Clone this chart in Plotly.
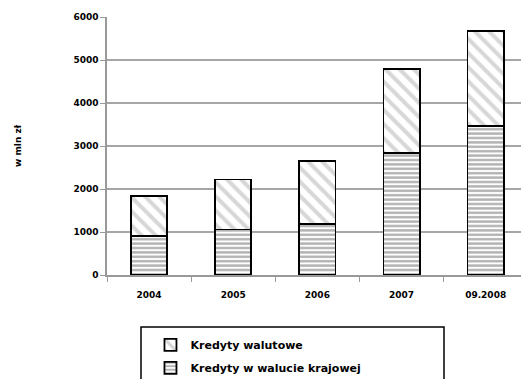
import plotly.graph_objects as go

categories = ["2004", "2005", "2006", "2007", "09.2008"]
domestic = [900, 1060, 1180, 2840, 3470]
foreign = [940, 1160, 1470, 1960, 2210]
series_names = ["Kredyty w walucie krajowej", "Kredyty walutowe"]
y_ticks = [0, 1000, 2000, 3000, 4000, 5000, 6000]

font = dict(family="DejaVu Sans", size=9, color="black", weight="bold")
legend_font = dict(family="DejaVu Sans", size=11, color="black", weight="bold")

fig = go.Figure()
fig.add_trace(go.Bar(
    x=categories, y=domestic, name=series_names[0], legendgroup="a", legendrank=2,
    marker=dict(color="white", line=dict(color="black", width=1.8),
                pattern=dict(shape="-", fgcolor="#666666", bgcolor="white", size=4.4, solidity=0.55)),
))
fig.add_trace(go.Bar(
    x=categories, y=foreign, name=series_names[1], legendgroup="b", legendrank=1,
    marker=dict(color="white", line=dict(color="black", width=1.8),
                pattern=dict(shape="\\", fgcolor="#b0b0b0", bgcolor="white", size=10, solidity=0.4)),
))

fig.update_layout(
    width=521, height=379,
    margin=dict(l=107, r=0, t=17, b=104, autoexpand=False),
    paper_bgcolor="white", plot_bgcolor="white",
    barmode="stack", bargap=0.57,
    font=font,
    showlegend=True,
    legend=dict(x=0.105, y=-0.215, xanchor="left", yanchor="top", traceorder="grouped",
                bgcolor="rgba(0,0,0,0)", borderwidth=0, font=legend_font,
                tracegroupgap=4, itemwidth=30),
    xaxis=dict(type="category", range=[-0.5, 4.42], showgrid=False,
               showline=True, linecolor="#999999", linewidth=1.5,
               ticks="outside", tickson="boundaries", ticklen=5, tickcolor="#999999",
               ticklabelstandoff=10, tickfont=font),
    yaxis=dict(range=[0, 6000], tickvals=y_ticks, showgrid=True, gridcolor="#a6a6a6", gridwidth=1.5,
               showline=True, linecolor="#999999", linewidth=1.5, zeroline=False,
               ticks="outside", ticklen=5, tickcolor="#999999", tickfont=font,
               title=dict(text="w mln zł", font=font, standoff=50)),
    shapes=[dict(type="rect", xref="paper", yref="paper",
                 x0=(141 - 107) / 414, x1=(444 - 107) / 414,
                 y0=-(330 - 275 + 100) / 258, y1=-(327 - 275) / 258,
                 line=dict(color="black", width=1.5), fillcolor="rgba(0,0,0,0)")],
)

fig.write_html("out.html")
